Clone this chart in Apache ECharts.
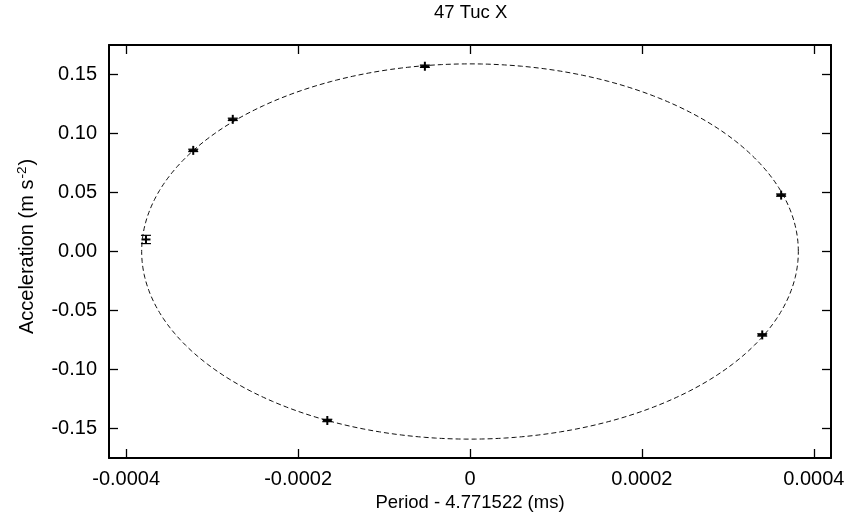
<!DOCTYPE html>
<html>
<head>
<meta charset="utf-8">
<script src="https://cdn.jsdelivr.net/npm/echarts@6/dist/echarts.min.js"></script>
<style>html,body{margin:0;padding:0;background:#fff;}#c{width:852px;height:525px;}</style>
</head>
<body>
<div id="c"></div>
<script>
// Measured points: period offset (ms), acceleration (m s^-2), acceleration error
const periodOffset = [-0.000377, -0.000322, -0.000276, -0.0000525, 0.000362, 0.000340, -0.000166];
const acceleration = [0.0102, 0.0857, 0.112, 0.157, 0.0478, -0.0707, -0.1432];
const accelError   = [0.0035, 0.001, 0.001, 0.001, 0.001, 0.001, 0.001];
// Fitted orbit ellipse (semi-axes: period, acceleration)
const ellipseSemiAxes = [0.000382, 0.159];
// Tick values
const xTicks = [-0.0004, -0.0002, 0, 0.0002, 0.0004];
const yTicks = [-0.15, -0.10, -0.05, 0, 0.05, 0.10, 0.15];
const xRange = [-0.00042, 0.00042];
const yRange = [-0.175, 0.175];

const ellipse = [];
for (let i = 0; i <= 360; i++) {
  const t = i * Math.PI / 180;
  ellipse.push([ellipseSemiAxes[0] * Math.cos(t), ellipseSemiAxes[1] * Math.sin(t)]);
}
const pts = periodOffset.map((x, i) => [x, acceleration[i], accelError[i]]);

const FONT = 'Liberation Sans';
const axisLineStyle = { color: '#000', width: 2 };
const tickStyle = { color: '#000', width: 1.3 };

function xAxisCfg(pos, showLabel) {
  return {
    type: 'value', position: pos, min: xRange[0], max: xRange[1],
    axisLine: { show: true, onZero: false, lineStyle: axisLineStyle },
    axisTick: { show: true, inside: true, length: 9, lineStyle: tickStyle, customValues: xTicks },
    axisLabel: { show: showLabel, customValues: xTicks, margin: 11, color: '#000', fontFamily: FONT, fontSize: 20,
      formatter: v => (Math.abs(v) < 1e-12 ? '0' : v.toFixed(4)) },
    splitLine: { show: false }
  };
}
function yAxisCfg(pos, showLabel) {
  return {
    type: 'value', position: pos, min: yRange[0], max: yRange[1],
    axisLine: { show: true, onZero: false, lineStyle: axisLineStyle },
    axisTick: { show: true, inside: true, length: 9, lineStyle: tickStyle, customValues: yTicks },
    axisLabel: { show: showLabel, customValues: yTicks, margin: 12, color: '#000', fontFamily: FONT, fontSize: 20,
      formatter: v => (Math.abs(v) < 1e-12 ? '0.00' : v.toFixed(2)) },
    splitLine: { show: false }
  };
}

const chart = echarts.init(document.getElementById('c'), null, { renderer: 'canvas' });
const xb = xAxisCfg('bottom', true);
xb.name = 'Period - 4.771522 (ms)';
xb.nameLocation = 'middle';
xb.nameGap = 33;
xb.nameTextStyle = { color: '#000', fontFamily: FONT, fontSize: 18.5 };
const yl = yAxisCfg('left', true);
yl.name = '{a|Acceleration (m s}{s|-2}{a|)}';
yl.nameLocation = 'middle';
yl.nameGap = 71;
yl.nameTextStyle = {
  color: '#000', fontFamily: FONT, fontSize: 20, padding: [0, 0, 0, 10],
  rich: {
    a: { color: '#000', fontFamily: FONT, fontSize: 20, lineHeight: 22 },
    s: { color: '#000', fontFamily: FONT, fontSize: 13.5, lineHeight: 22, padding: [0, 1, 10, 1] }
  }
};

chart.setOption({
  animation: false,
  backgroundColor: '#fff',
  title: {
    text: '47 Tuc X', left: 470.6, top: 3, padding: 0, textAlign: 'center',
    textStyle: { color: '#000', fontFamily: FONT, fontSize: 18.5, fontWeight: 'normal' }
  },
  grid: { left: 109, right: 21, top: 45, bottom: 67, containLabel: false },
  xAxis: [xb, xAxisCfg('top', false)],
  yAxis: [yl, yAxisCfg('right', false)],
  series: [
    {
      type: 'line', data: ellipse, showSymbol: false, symbol: 'none', smooth: false,
      lineStyle: { color: '#111', width: 1, type: [5, 3] }, silent: true, z: 2
    },
    {
      type: 'custom', data: pts, z: 3,
      renderItem: function (params, api) {
        const x = api.value(0), y = api.value(1), e = api.value(2);
        const c = api.coord([x, y]);
        const t = api.coord([x, y + e]);
        const b = api.coord([x, y - e]);
        const s = 4.5, cap = 5;
        const st = { stroke: '#000', lineWidth: 2 };
        const st2 = { stroke: '#000', lineWidth: 1.2 };
        return {
          type: 'group',
          children: [
            { type: 'line', shape: { x1: c[0], y1: t[1], x2: c[0], y2: b[1] }, style: st2 },
            { type: 'line', shape: { x1: c[0] - cap, y1: t[1], x2: c[0] + cap, y2: t[1] }, style: st2 },
            { type: 'line', shape: { x1: c[0] - cap, y1: b[1], x2: c[0] + cap, y2: b[1] }, style: st2 },
            { type: 'line', shape: { x1: c[0] - s, y1: c[1], x2: c[0] + s, y2: c[1] }, style: st },
            { type: 'line', shape: { x1: c[0], y1: c[1] - s, x2: c[0], y2: c[1] + s }, style: st }
          ]
        };
      }
    }
  ]
});
</script>
</body>
</html>
